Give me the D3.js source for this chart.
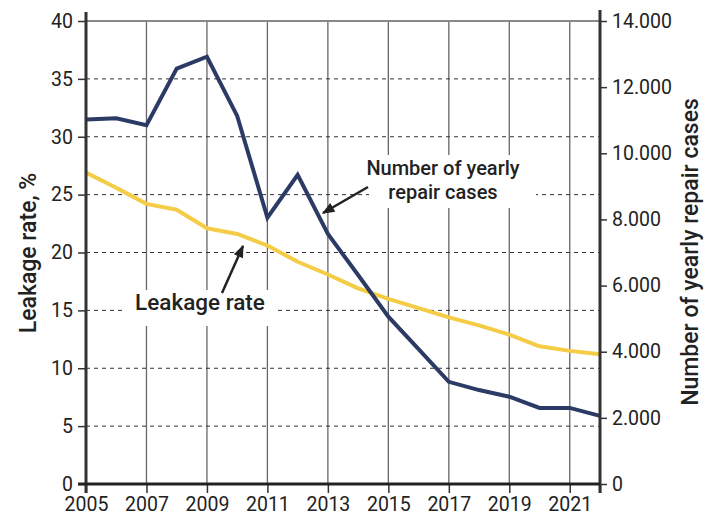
<!DOCTYPE html>
<meta charset="utf-8">
<head>
  <title>Leakage rate and repair cases</title>
  <style>
    body { margin: 0; background: #fff; }
    text { font-family: Roboto, "Liberation Sans", sans-serif; fill: #222; }
  </style>
</head>
<body>
<script src="https://d3js.org/d3.v7.min.js"></script>
<div id="chart"></div>
<script>

// data
var years = [2005, 2006, 2007, 2008, 2009, 2010, 2011, 2012, 2013, 2014, 2015, 2016, 2017, 2018, 2019, 2020, 2021, 2022];
var leakageRate = [26.9, 25.6, 24.2, 23.7, 22.1, 21.6, 20.6, 19.2, 18.1, 16.9, 16.0, 15.2, 14.4, 13.7, 12.9, 11.9, 11.5, 11.2];
var repairCases = [11020, 11060, 10850, 12560, 12920, 11130, 8050, 9350, 7560, 6320, 5060, 4080, 3090, 2840, 2640, 2300, 2300, 2060];
var yearLabels = [2005, 2007, 2009, 2011, 2013, 2015, 2017, 2019, 2021];
var leftTicks = [0, 5, 10, 15, 20, 25, 30, 35, 40];
var rightTicks = [0, 2000, 4000, 6000, 8000, 10000, 12000, 14000];
var casesLabel = ["Number of yearly", "repair cases"];

var width = 718, height = 520;
var margin = {top: 21, right: 118, bottom: 36, left: 86};

var svg = d3.select("#chart").append("svg")
    .attr("width", width)
    .attr("height", height);

var x = d3.scaleLinear()
    .domain([2005, 2022])
    .range([margin.left, width - margin.right]);

var yL = d3.scaleLinear()
    .domain([0, 40])
    .range([height - margin.bottom, margin.top]);

var yR = d3.scaleLinear()
    .domain([0, 14000])
    .range([height - margin.bottom, margin.top]);

var fmt = function(d) { return d3.format(",")(d).replace(/,/g, "."); };

// grid
var grid = svg.append("g");

grid.selectAll(".vgrid")
  .data(yearLabels.slice(1))
  .enter().append("line")
    .attr("x1", function(d) { return x(d); })
    .attr("x2", function(d) { return x(d); })
    .attr("y1", yL(40))
    .attr("y2", yL(0))
    .attr("stroke", "#666")
    .attr("stroke-width", 1.3);

grid.selectAll(".hgrid")
  .data(leftTicks.filter(function(d) { return d > 0 && d < 40; }))
  .enter().append("line")
    .attr("x1", x(2005))
    .attr("x2", x(2022))
    .attr("y1", function(d) { return yL(d); })
    .attr("y2", function(d) { return yL(d); })
    .attr("stroke", "#333")
    .attr("stroke-width", 1)
    .attr("stroke-dasharray", "4,4");

grid.append("line")
    .attr("x1", x(2005)).attr("x2", x(2022))
    .attr("y1", yL(40)).attr("y2", yL(40))
    .attr("stroke", "#888")
    .attr("stroke-width", 2);

// white boxes behind the annotations
svg.append("rect").attr("x", 369).attr("y", 155).attr("width", 167).attr("height", 53).attr("fill", "#fff");
svg.append("rect").attr("x", 122).attr("y", 290).attr("width", 156).attr("height", 36).attr("fill", "#fff");

// lines
var lineLeak = d3.line()
    .x(function(d, i) { return x(years[i]); })
    .y(function(d) { return yL(d); });

var lineCases = d3.line()
    .x(function(d, i) { return x(years[i]); })
    .y(function(d) { return yR(d); });

svg.append("path")
    .datum(leakageRate)
    .attr("fill", "none")
    .attr("stroke", "#f4cc45")
    .attr("stroke-width", 4)
    .attr("stroke-linejoin", "round")
    .attr("d", lineLeak);

svg.append("path")
    .datum(repairCases)
    .attr("fill", "none")
    .attr("stroke", "#2c3a66")
    .attr("stroke-width", 4)
    .attr("stroke-linejoin", "miter")
    .attr("d", lineCases);

// axes
var axisLeft = svg.append("g")
    .attr("transform", "translate(" + x(2005) + ",0)")
    .call(d3.axisLeft(yL).tickValues(leftTicks).tickSize(8).tickPadding(5));

var axisRight = svg.append("g")
    .attr("transform", "translate(" + x(2022) + ",0)")
    .call(d3.axisRight(yR).tickValues(rightTicks).tickSize(7).tickFormat(fmt).tickPadding(5));

var axisBottom = svg.append("g")
    .attr("transform", "translate(0," + yL(0) + ")")
    .call(d3.axisBottom(x).tickValues(yearLabels.concat([2022])).tickSize(9).tickPadding(4)
      .tickFormat(function(d) { return d === 2022 ? "" : d; }));

[axisLeft, axisRight, axisBottom].forEach(function(a) {
  a.selectAll("text").style("font-size", "19.5px").style("fill", "#222");
  a.selectAll(".tick line").attr("stroke", "#333").attr("stroke-width", 1.5);
  a.select(".domain").remove();
});

svg.append("line")
    .attr("x1", x(2005)).attr("x2", x(2005))
    .attr("y1", 12).attr("y2", yL(0) + 9)
    .attr("stroke", "#333").attr("stroke-width", 3);

svg.append("line")
    .attr("x1", x(2022)).attr("x2", x(2022))
    .attr("y1", 10).attr("y2", yL(0) + 9)
    .attr("stroke", "#333").attr("stroke-width", 3);

svg.append("line")
    .attr("x1", x(2005) - 8).attr("x2", x(2022))
    .attr("y1", yL(0)).attr("y2", yL(0))
    .attr("stroke", "#222").attr("stroke-width", 3);

// axis titles
svg.append("text")
    .attr("transform", "translate(36," + 253 + ")rotate(-90)")
    .attr("text-anchor", "middle")
    .style("font-size", "23px")
    .style("font-weight", 500)
    .text("Leakage rate, %");

svg.append("text")
    .attr("transform", "translate(698," + 252 + ")rotate(-90)")
    .attr("text-anchor", "middle")
    .style("font-size", "23px")
    .style("font-weight", 500)
    .text("Number of yearly repair cases");

// annotations
svg.append("defs").append("marker")
    .attr("id", "arrow")
    .attr("viewBox", "0 0 10 10")
    .attr("refX", 9).attr("refY", 5)
    .attr("markerWidth", 6).attr("markerHeight", 5)
    .attr("orient", "auto")
  .append("path")
    .attr("d", "M0,1 L10,5 L0,9 z")
    .attr("fill", "#222");

// two-line label, lines spaced so their boxes don't touch
svg.append("g").selectAll("text")
  .data(casesLabel)
  .enter().append("text")
    .attr("x", 443)
    .attr("y", function(d, i) { return 175 + i * 23.5; })
    .attr("text-anchor", "middle")
    .style("font-size", "20px")
    .style("font-weight", 500)
    .text(function(d) { return d; });

svg.append("line")
    .attr("x1", 368).attr("y1", 187)
    .attr("x2", 323).attr("y2", 213)
    .attr("stroke", "#222").attr("stroke-width", 2.5)
    .attr("marker-end", "url(#arrow)");

svg.append("text")
    .attr("x", 200).attr("y", 310)
    .attr("text-anchor", "middle")
    .style("font-size", "22.5px")
    .style("font-weight", 500)
    .text("Leakage rate");

svg.append("line")
    .attr("x1", 222).attr("y1", 293)
    .attr("x2", 243).attr("y2", 246)
    .attr("stroke", "#222").attr("stroke-width", 2.5)
    .attr("marker-end", "url(#arrow)");

</script>
</body>
